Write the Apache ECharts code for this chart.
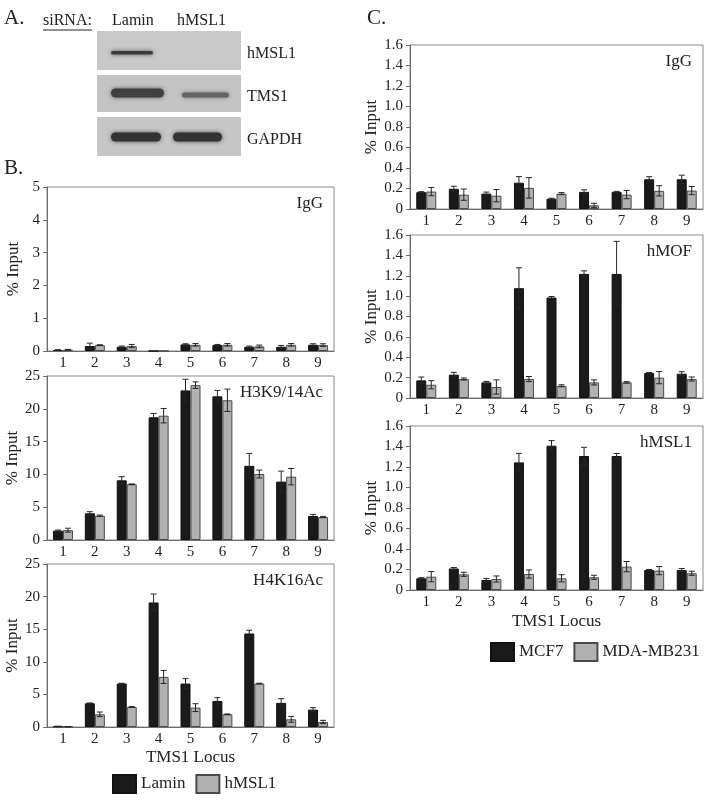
<!DOCTYPE html>
<html>
<head>
<meta charset="utf-8">
<script src="https://cdn.jsdelivr.net/npm/echarts@6/dist/echarts.min.js"></script>
<style>html,body{margin:0;padding:0;background:#fff}#c{width:710px;height:800px}</style>
</head>
<body>
<div id="c"></div>
<script>
// ---------- data ----------
const categories = ['1','2','3','4','5','6','7','8','9'];

// Panel B — IgG (Lamin vs hMSL1 siRNA)
const bIgG_Lamin     = [0.03,0.15,0.13,0,0.20,0.18,0.13,0.13,0.19];
const bIgG_LaminErr  = [0.01,0.09,0.02,0,0.02,0.02,0.02,0.04,0.03];
const bIgG_hMSL1     = [0.04,0.18,0.15,0,0.19,0.19,0.14,0.19,0.18];
const bIgG_hMSL1Err  = [0.01,0.01,0.05,0,0.04,0.04,0.04,0.04,0.04];

// Panel B — H3K9/14Ac
const bH3_Lamin      = [1.42,4.07,9.1,18.7,22.8,21.9,11.3,8.9,3.66];
const bH3_LaminErr   = [0.1,0.25,0.55,0.6,1.7,0.9,1.9,1.6,0.25];
const bH3_hMSL1      = [1.5,3.7,8.5,18.95,23.6,21.3,10.05,9.65,3.5];
const bH3_hMSL1Err   = [0.3,0.1,0.05,1.1,0.5,1.7,0.6,1.25,0.1];

// Panel B — H4K16Ac
const bH4_Lamin      = [0.1,3.64,6.66,19.1,6.66,4.0,14.34,3.7,2.66];
const bH4_LaminErr   = [0.02,0.05,0.05,1.3,0.75,0.5,0.5,0.65,0.3];
const bH4_hMSL1      = [0.05,1.95,3.07,7.68,2.97,1.95,6.66,1.18,0.77];
const bH4_hMSL1Err   = [0.02,0.35,0.05,1.0,0.6,0.05,0.05,0.45,0.25];

// Panel C — IgG (MCF7 vs MDA-MB231)
const cIgG_MCF7      = [0.164,0.197,0.15,0.256,0.1,0.167,0.167,0.29,0.29];
const cIgG_MCF7Err   = [0.005,0.025,0.015,0.06,0.005,0.02,0.005,0.025,0.04];
const cIgG_MDA       = [0.17,0.14,0.13,0.206,0.15,0.036,0.14,0.177,0.18];
const cIgG_MDAErr    = [0.04,0.055,0.06,0.1,0.01,0.02,0.04,0.05,0.04];

// Panel C — hMOF
const cMOF_MCF7      = [0.173,0.229,0.153,1.078,0.986,1.218,1.218,0.245,0.238];
const cMOF_MCF7Err   = [0.033,0.023,0.01,0.2,0.01,0.03,0.32,0.005,0.02];
const cMOF_MDA       = [0.13,0.186,0.108,0.186,0.12,0.153,0.153,0.2,0.186];
const cMOF_MDAErr    = [0.04,0.01,0.07,0.025,0.01,0.025,0.007,0.06,0.02];

// Panel C — hMSL1
const cMSL_MCF7      = [0.114,0.21,0.098,1.245,1.408,1.307,1.307,0.195,0.195];
const cMSL_MCF7Err   = [0.006,0.01,0.015,0.088,0.05,0.085,0.025,0.005,0.015];
const cMSL_MDA       = [0.13,0.153,0.107,0.156,0.114,0.124,0.228,0.189,0.163];
const cMSL_MDAErr    = [0.05,0.02,0.03,0.04,0.035,0.02,0.05,0.04,0.02];

const panelNames = ['IgG','H3K9/14Ac','H4K16Ac','IgG','hMOF','hMSL1'];
const legendB = ['Lamin','hMSL1'];
const legendC = ['MCF7','MDA-MB231'];
const yTicksB_IgG = [0,5,1];   // min, max, interval
const yTicksB_Ac  = [0,25,5];
const yTicksC     = [0,1.6,0.2];

// ---------- chart ----------
const FONT = 'Liberation Serif';
const TXT = '#222';
const BLACK = '#1a1a1a', GRAY = '#b1b1b1';

const panels = [
  {grid:{left:47,top:187,width:287,height:164}, ticks:yTicksB_IgG, a:bIgG_Lamin, ae:bIgG_LaminErr, b:bIgG_hMSL1, be:bIgG_hMSL1Err, names:legendB, dec:false},
  {grid:{left:47,top:376,width:287,height:164}, ticks:yTicksB_Ac, a:bH3_Lamin, ae:bH3_LaminErr, b:bH3_hMSL1, be:bH3_hMSL1Err, names:legendB, dec:false},
  {grid:{left:47,top:564,width:287,height:163}, ticks:yTicksB_Ac, a:bH4_Lamin, ae:bH4_LaminErr, b:bH4_hMSL1, be:bH4_hMSL1Err, names:legendB, dec:false},
  {grid:{left:410,top:45,width:293,height:164}, ticks:yTicksC, a:cIgG_MCF7, ae:cIgG_MCF7Err, b:cIgG_MDA, be:cIgG_MDAErr, names:legendC, dec:true},
  {grid:{left:410,top:235,width:293,height:163}, ticks:yTicksC, a:cMOF_MCF7, ae:cMOF_MCF7Err, b:cMOF_MDA, be:cMOF_MDAErr, names:legendC, dec:true},
  {grid:{left:410,top:426,width:293,height:164}, ticks:yTicksC, a:cMSL_MCF7, ae:cMSL_MCF7Err, b:cMSL_MDA, be:cMSL_MDAErr, names:legendC, dec:true},
];

function errRender(offset){
  return function(params, api){
    const i = api.value(0), v = api.value(1), e = api.value(2);
    if (!(e > 0) || !(v > 0)) return null;
    const hi = api.coord([i, v + e]);
    const lo = api.coord([i, Math.max(0, v - e)]);
    const x = hi[0] + offset, cw = 3;
    const st = {stroke:'#262626', lineWidth:1};
    return {type:'group', children:[
      {type:'line', shape:{x1:x,y1:hi[1],x2:x,y2:lo[1]}, style:st},
      {type:'line', shape:{x1:x-cw,y1:hi[1],x2:x+cw,y2:hi[1]}, style:st},
      {type:'line', shape:{x1:x-cw,y1:lo[1],x2:x+cw,y2:lo[1]}, style:st}
    ]};
  };
}

const grid=[], xAxis=[], yAxis=[], series=[], title=[];
panels.forEach((p, k) => {
  grid.push(Object.assign({show:true, borderColor:'#8a8a8a', borderWidth:1, backgroundColor:'#fff'}, p.grid));
  xAxis.push({type:'category', gridIndex:k, data:categories,
    axisLine:{lineStyle:{color:'#6e6e6e'}}, axisTick:{show:false},
    axisLabel:{fontFamily:FONT, fontSize:15, color:TXT, margin:5},
    name: (k===2||k===5) ? 'TMS1 Locus' : '', nameLocation:'middle', nameGap: k===2 ? 22 : 23,
    nameTextStyle:{fontFamily:FONT, fontSize:17, color:TXT}});
  yAxis.push({type:'value', gridIndex:k, min:p.ticks[0], max:p.ticks[1], interval:p.ticks[2],
    splitLine:{show:false},
    axisLine:{show:true, lineStyle:{color:'#6e6e6e'}},
    axisTick:{show:true, length:4, lineStyle:{color:'#6e6e6e'}},
    axisLabel:{fontFamily:FONT, fontSize:15, color:TXT, margin:7,
      formatter: v => p.dec ? (v===0 ? '0' : v.toFixed(1)) : String(v)},
    name:'% Input', nameLocation:'middle', nameGap: p.dec ? 29 : 25,
    nameTextStyle:{fontFamily:FONT, fontSize:17, color:TXT}});
  const barStyle = (c) => ({color:c, borderColor: c===BLACK ? '#111' : '#4a4a4a', borderWidth:1});
  series.push({type:'bar', name:p.names[0], xAxisIndex:k, yAxisIndex:k, data:p.a, barWidth:10, barGap:'0%', itemStyle:barStyle(BLACK), animation:false});
  series.push({type:'bar', name:p.names[1], xAxisIndex:k, yAxisIndex:k, data:p.b, barWidth:10, barGap:'0%', itemStyle:barStyle(GRAY), animation:false});
  series.push({type:'custom', name:'errA'+k, xAxisIndex:k, yAxisIndex:k, z:5, animation:false,
    renderItem:errRender(-5), encode:{x:0,y:1}, data:p.a.map((v,i)=>[i,v,p.ae[i]])});
  series.push({type:'custom', name:'errB'+k, xAxisIndex:k, yAxisIndex:k, z:5, animation:false,
    renderItem:errRender(5), encode:{x:0,y:1}, data:p.b.map((v,i)=>[i,v,p.be[i]])});
  title.push({text:panelNames[k], right: 710 - (p.grid.left + p.grid.width) + 6, top: p.grid.top + 3,
    textStyle:{fontFamily:FONT, fontSize:17, fontWeight:'normal', color:TXT}});
});

const legendStyle = {icon:'rect', itemWidth:23, itemHeight:18, itemGap:10, orient:'horizontal',
  textStyle:{fontFamily:FONT, fontSize:17, color:TXT}};

const graphic = [
  {type:'text', left:4, top:8, style:{text:'A.', font:'21px "Liberation Serif"', fill:TXT}},
  {type:'text', left:4, top:158, style:{text:'B.', font:'21px "Liberation Serif"', fill:TXT}},
  {type:'text', left:367, top:8, style:{text:'C.', font:'21px "Liberation Serif"', fill:TXT}},
  {type:'text', left:43, top:13, style:{text:'siRNA:', font:'16px "Liberation Serif"', fill:TXT}},
  {type:'line', shape:{x1:43,y1:30,x2:92,y2:30}, style:{stroke:TXT, lineWidth:1}},
  {type:'text', left:112, top:13, style:{text:'Lamin', font:'16px "Liberation Serif"', fill:TXT}},
  {type:'text', left:177, top:13, style:{text:'hMSL1', font:'16px "Liberation Serif"', fill:TXT}},
  // blot panels
  {type:'rect', shape:{x:97,y:31,width:144,height:39}, style:{fill:'#c9c9c9'}},
  {type:'rect', shape:{x:97,y:75,width:144,height:37}, style:{fill:'#c4c4c4'}},
  {type:'rect', shape:{x:97,y:117,width:144,height:39}, style:{fill:'#c6c6c6'}},
  // bands
  {type:'rect', shape:{x:111,y:51,width:42,height:3.5,r:1.75}, style:{fill:'#3a3a3a', shadowBlur:4, shadowColor:'#555'}},
  {type:'rect', shape:{x:111,y:88.5,width:53,height:9,r:4.5}, style:{fill:'#404040', shadowBlur:4, shadowColor:'#555'}},
  {type:'rect', shape:{x:182,y:92.5,width:47,height:5,r:2.5}, style:{fill:'#646464', shadowBlur:4, shadowColor:'#777'}},
  {type:'rect', shape:{x:111,y:132.5,width:50,height:9,r:4.5}, style:{fill:'#333', shadowBlur:4, shadowColor:'#484848'}},
  {type:'rect', shape:{x:173,y:132.5,width:49,height:9,r:4.5}, style:{fill:'#333', shadowBlur:4, shadowColor:'#484848'}},
  {type:'text', left:247, top:46, style:{text:'hMSL1', font:'16px "Liberation Serif"', fill:TXT}},
  {type:'text', left:247, top:89, style:{text:'TMS1', font:'16px "Liberation Serif"', fill:TXT}},
  {type:'text', left:247, top:132, style:{text:'GAPDH', font:'16px "Liberation Serif"', fill:TXT}}
];

const chart = echarts.init(document.getElementById('c'), null, {renderer:'canvas'});
chart.setOption({
  backgroundColor:'#fff',
  animation:false,
  title, grid, xAxis, yAxis, series, graphic,
  legend:[
    Object.assign({data:legendB, left:107, top:769}, legendStyle),
    Object.assign({data:legendC, left:485, top:637}, legendStyle)
  ]
});
</script>
</body>
</html>
